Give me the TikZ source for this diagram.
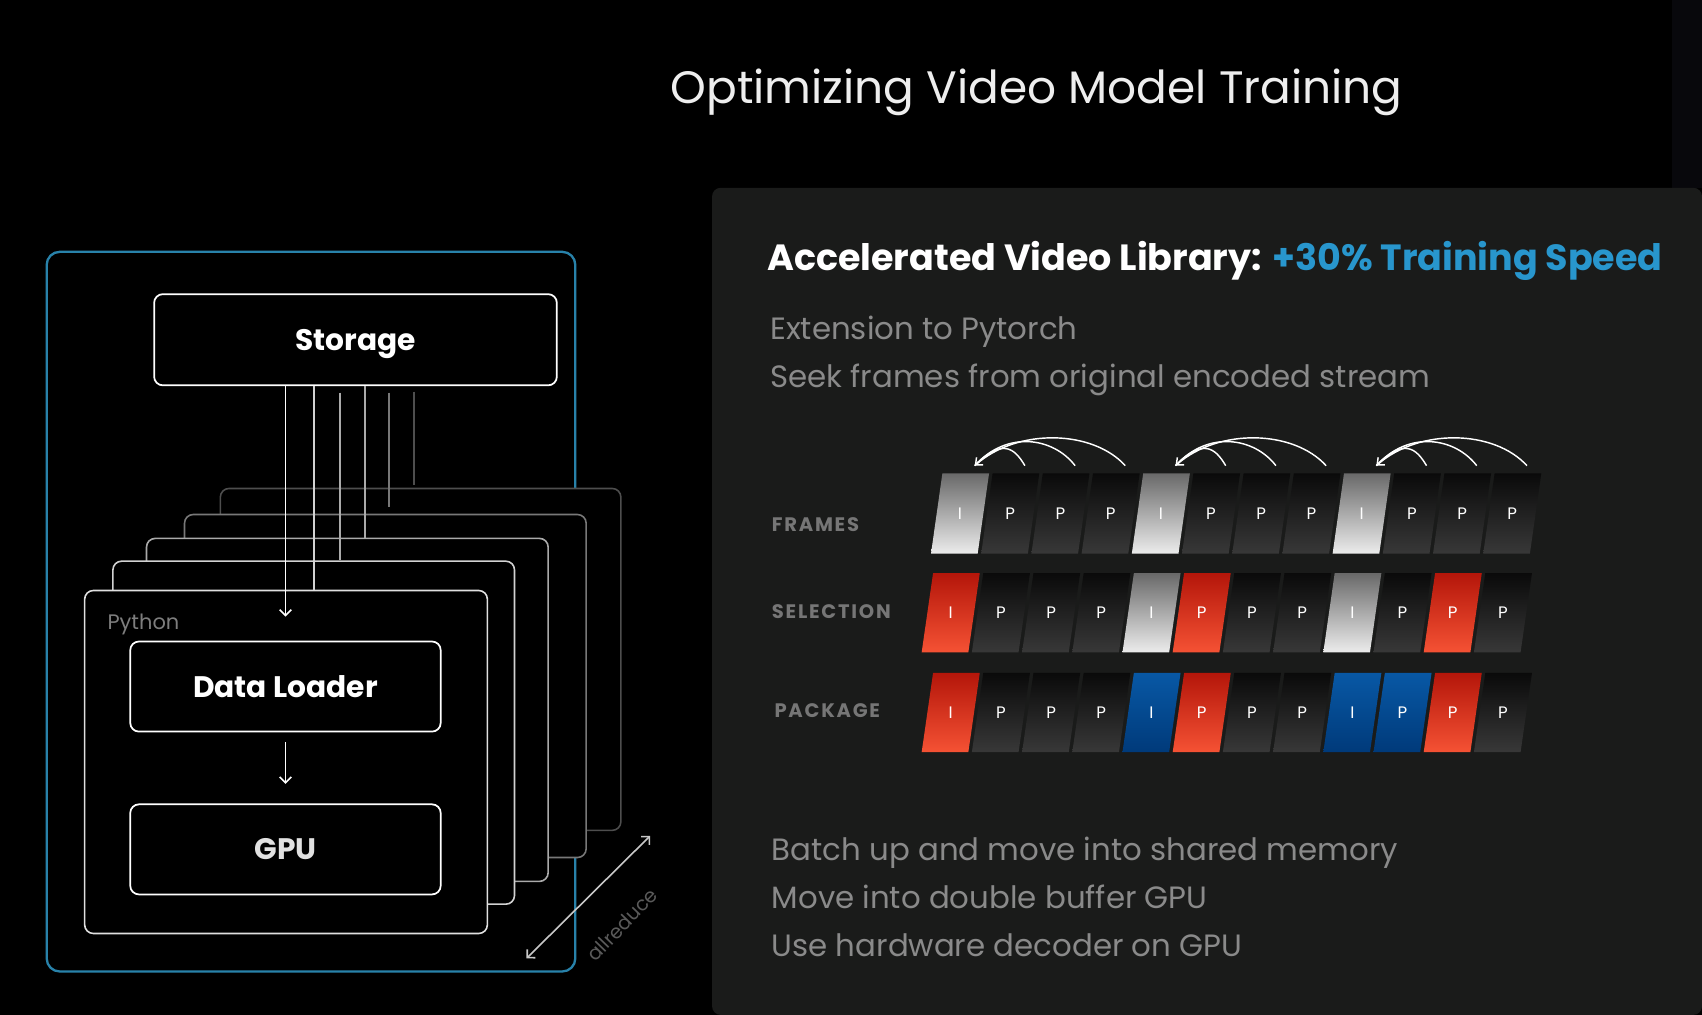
\documentclass[tikz,border=0pt]{standalone}
\usepackage{fontspec}
\setmainfont{Poppins}
\newfontfamily\trackfont[LetterSpace=9]{Poppins}
\usetikzlibrary{arrows.meta,calc,fit}

\definecolor{panelgrey}{RGB}{26,27,26}
\definecolor{textgrey}{RGB}{138,138,138}
\definecolor{labelgrey}{RGB}{118,118,118}
\definecolor{frameblue}{RGB}{40,130,170}
\definecolor{speedblue}{RGB}{40,150,205}
\definecolor{layerA}{RGB}{224,224,224}
\definecolor{layerB}{RGB}{210,210,210}
\definecolor{layerC}{RGB}{170,170,170}
\definecolor{layerD}{RGB}{120,120,120}
\definecolor{layerE}{RGB}{78,78,78}

\tikzset{
  box/.style={draw=white, line width=1.2pt, rounded corners=6pt, inner sep=0pt, fill=black},
  layer/.style={fill=black, line width=1.1pt, rounded corners=6pt, inner sep=0pt},
  boxlabel/.style={inner sep=0pt, text depth=0pt, text=white, font=\bfseries\fontsize{20.5}{24}\selectfont},
  feed/.style={line width=1.1pt},
  flow/.style={white, line width=1.1pt, -{Straight Barb[length=4pt,width=8pt]}},
  greytext/.style={anchor=base west, inner sep=0pt, text=textgrey, font=\fontsize{21.3}{25}\selectfont},
  rowlabel/.style={anchor=base west, inner sep=0pt, text=labelgrey, font=\trackfont\bfseries\fontsize{13.5}{16}\selectfont},
  cell/.style={inner sep=0.75pt, text=white, font=\fontsize{11.5}{13}\selectfont},
  iframe/.style={top color={rgb,255:red,105;green,105;blue,105}, bottom color={rgb,255:red,236;green,236;blue,236}},
  pframe/.style={top color={rgb,255:red,10;green,10;blue,10}, bottom color={rgb,255:red,56;green,56;blue,56}},
  rframe/.style={top color={rgb,255:red,180;green,22;blue,10}, bottom color={rgb,255:red,245;green,82;blue,52}},
  bframe/.style={top color={rgb,255:red,8;green,88;blue,165}, bottom color={rgb,255:red,0;green,58;blue,122}},
  arc/.style={white, line width=1pt},
}

\begin{document}
\begin{tikzpicture}[x=0.75pt,y=0.75pt,yscale=-1,xscale=1]
%Background
\fill [black] (0,0) rectangle (1568,935) ;
\useasboundingbox (0,0) rectangle (1568,935) ;
\fill [color={rgb, 255:red, 8; green, 8; blue, 12 }] (1540,0) rectangle (1568,173) ;

% Text Node
\node (title) at (955,95.2) [anchor=base] [inner sep=0pt, text={rgb,255:red,238;green,238;blue,238}, font=\fontsize{31.4}{36}\selectfont] {Optimizing Video Model Training};

%Shape: Panel
\fill [panelgrey, rounded corners=6pt] (656,173) -- (1568,173) -- (1568,935) -- (656,935) -- cycle ;

%Shape: Rectangle (outer frame)
\draw [frameblue, line width=1.6pt, rounded corners=9pt] (43,232) rectangle (530,895) ;

%Shape: Rectangle (storage)
\node [box, fit={(142,271) (513,355)}] (storage) {};
\node [boxlabel] (storage-text) at (storage.center) {Storage};

%Shape: Rectangle (python layers, back to front)
\foreach \n/\xa/\ya/\xb/\yb/\c in {5/203/450/572/765/layerE, 4/170/474/540/790/layerD, 3/135/496/505/812/layerC, 2/104/517/474/833/layerB, 1/78/544/449/860/layerA}
  \node [layer, draw=\c, fit={(\xa,\ya) (\xb,\yb)}] (layer\n) {};

%Straight Lines (storage to layers)
\coordinate (inlet) at (263,568) ;
\draw [flow] (storage.south -| inlet) -- (inlet) ;
\draw [feed, color=layerB] (storage.south -| 289.5,0) -- (layer1.north -| 289.5,0) ;
\draw [feed, color=layerC] ($(storage.south -| 313,0)+(0,6)$) -- (layer2.north -| 313,0) ;
\draw [feed, color=layerC] (storage.south -| 336,0) -- (layer3.north -| 336,0) ;
\draw [feed, color=layerD] ($(storage.south -| 358.5,0)+(0,6)$) -- ($(layer4.north -| 358.5,0)+(0,-6)$) ;
\draw [feed, color=layerE] ($(storage.south -| 381.5,0)+(0,5)$) -- ($(layer5.north -| 381.5,0)+(0,-2)$) ;

% Text Node
\node (python) at (98.8,580) [anchor=base west] [inner sep=0pt, text={rgb,255:red,125;green,125;blue,125}, font=\fontsize{14.5}{17}\selectfont] {Python};

%Shape: Rectangle (loader, gpu)
\node [box, fit={(120,591) (406,674)}] (loader) {};
\node [boxlabel] (loader-text) at (loader.center) {Data Loader};
\node [box, fit={(120,741) (406,824)}] (gpu) {};
\node [boxlabel, text={rgb,255:red,225;green,225;blue,225}] (gpu-text) at (gpu.center) {GPU};
\draw [flow] ($(loader.south)+(0,9)$) -- ($(gpu.north)+(0,-18)$) ;

%Straight Lines (allreduce)
\coordinate (ar-a) at (485,883) ;
\coordinate (ar-b) at (599,770) ;
\draw [color={rgb,255:red,200;green,200;blue,200}, line width=1.1pt, {Straight Barb[length=4pt,width=8pt]}-{Straight Barb[length=4pt,width=8pt]}] (ar-a) -- (ar-b) ;
\node (allreduce) at (573,852) [rotate=46] [inner sep=0pt, text={rgb,255:red,90;green,90;blue,90}, font=\fontsize{13.5}{16}\selectfont] {allreduce};

% Text Node (panel)
\node (head) at (706.6,249.4) [anchor=base west] [inner sep=0pt, text=white, font=\bfseries\fontsize{25.2}{30}\selectfont] {Accelerated Video Library: \textcolor{speedblue}{+30\% Training Speed}};
\node [greytext] (ext) at (709.4,312.6) {Extension to Pytorch};
\node [greytext] (seek) at (709.4,356.8) {Seek frames from original encoded stream};
\node [greytext] (batch) at (710.7,792.3) {Batch up and move into shared memory};
\node [greytext] (move) at (710.7,836.8) {Move into double buffer GPU};
\node [greytext] (hw) at (710.7,881.3) {Use hardware decoder on GPU};

\node [rowlabel] (frames) at (710.9,489.2) {FRAMES};
\node [rowlabel] (selection) at (710.9,569.6) {SELECTION};
\node [rowlabel] (package) at (713.3,660.8) {PACKAGE};

%Shape: Parallelograms (frames)
\foreach \k/\s/\t in {0/iframe/I, 1/pframe/P, 2/pframe/P, 3/pframe/P, 4/iframe/I, 5/pframe/P, 6/pframe/P, 7/pframe/P, 8/iframe/I, 9/pframe/P, 10/pframe/P, 11/pframe/P} {
  \shade [\s] (857.7+46.25*\k,510) -- ++(10.5,-74) -- ++(43,0) -- ++(-10.5,74) -- cycle ;
  \node [cell] (fr-\k) at (884.45+46.25*\k,473) {\t};
}
%Shape: Parallelograms (selection)
\foreach \k/\s/\t in {0/rframe/I, 1/pframe/P, 2/pframe/P, 3/pframe/P, 4/iframe/I, 5/rframe/P, 6/pframe/P, 7/pframe/P, 8/iframe/I, 9/pframe/P, 10/rframe/P, 11/pframe/P} {
  \shade [\s] (849.1+46.25*\k,601) -- ++(10.5,-73) -- ++(43,0) -- ++(-10.5,73) -- cycle ;
  \node [cell] (sel-\k) at (875.85+46.25*\k,564.5) {\t};
}
%Shape: Parallelograms (package)
\foreach \k/\s/\t in {0/rframe/I, 1/pframe/P, 2/pframe/P, 3/pframe/P, 4/bframe/I, 5/rframe/P, 6/pframe/P, 7/pframe/P, 8/bframe/I, 9/bframe/P, 10/rframe/P, 11/pframe/P} {
  \shade [\s] (849.1+46.25*\k,693) -- ++(10.5,-73) -- ++(43,0) -- ++(-10.5,73) -- cycle ;
  \node [cell] (pkg-\k) at (875.85+46.25*\k,656.5) {\t};
}

%Curves (references back to I frames)
\foreach \k in {0,...,11}
  \coordinate (ref-\k) at ($(fr-\k)+(13.5,-44)$) ;
\foreach \b in {0,4,8} {
  \pgfmathtruncatemacro{\ka}{\b+1}
  \pgfmathtruncatemacro{\kb}{\b+2}
  \pgfmathtruncatemacro{\kc}{\b+3}
  \draw [arc, -{Straight Barb[length=4pt,width=7pt]}] (ref-\kc) .. controls ($(ref-\kc)+(-30,-33)$) and ($(ref-\b)+(40,-35)$) .. (ref-\b) ;
  \draw [arc] (ref-\kb) .. controls ($(ref-\kb)+(-20,-26)$) and ($(ref-\b)+(30,-33)$) .. (ref-\b) ;
  \draw [arc] (ref-\ka) .. controls ($(ref-\ka)+(-10,-17)$) and ($(ref-\b)+(25,-25)$) .. (ref-\b) ;
}

\end{tikzpicture}
\end{document}
